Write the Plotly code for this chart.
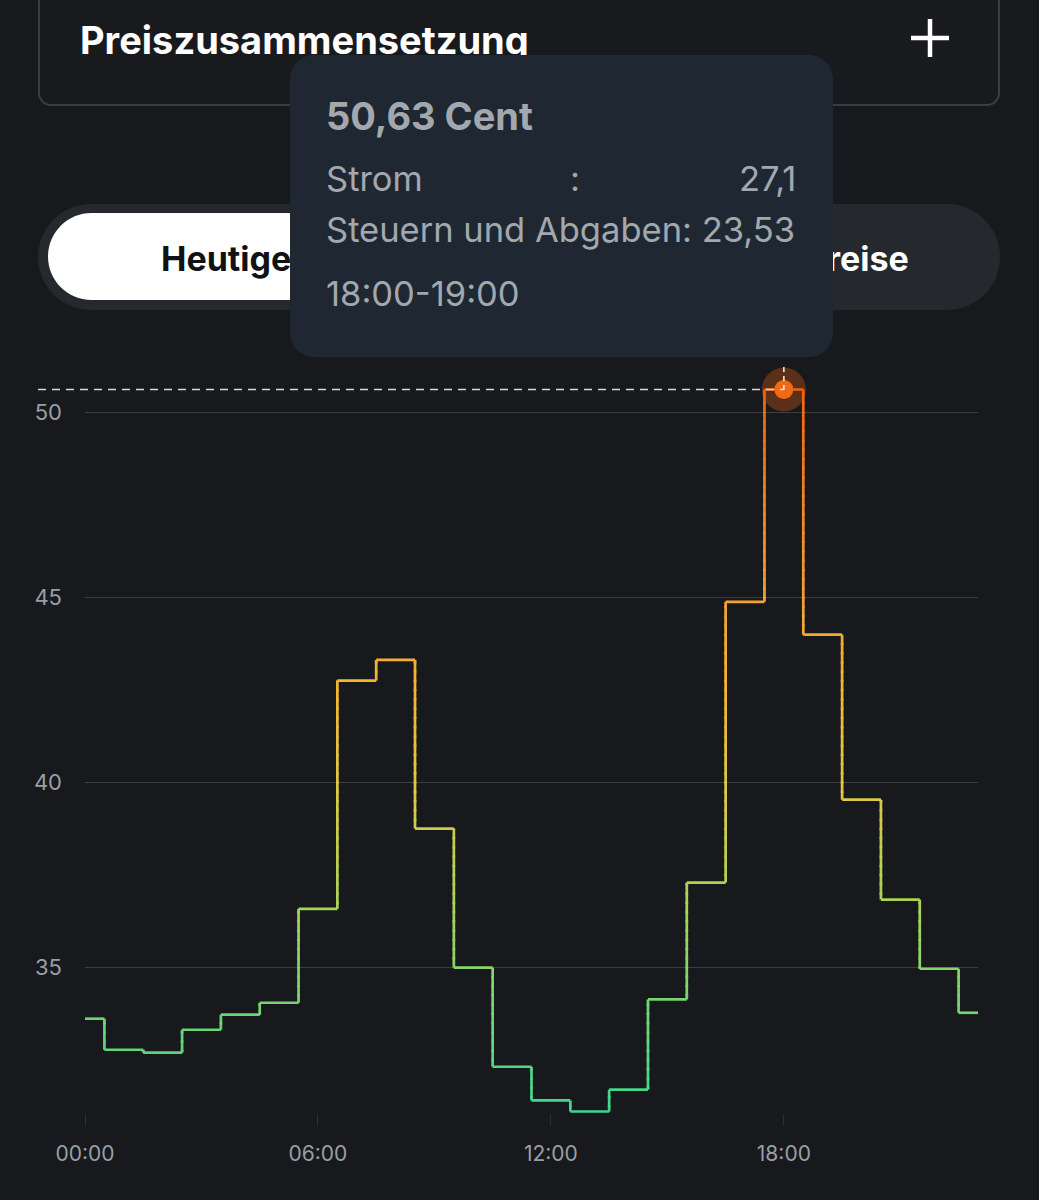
import math
import plotly.graph_objects as go

# ---------------- data ----------------
hours = list(range(24))
prices = [33.62, 32.78, 32.70, 33.32, 33.73, 34.05, 36.59, 42.76, 43.32, 38.76,
          35.00, 32.32, 31.41, 31.11, 31.70, 34.14, 37.30, 44.89, 50.63, 44.00,
          39.54, 36.84, 34.97, 33.78]
x_tickvals = [0, 6, 12, 18]
x_ticktext = ["00:00", "06:00", "12:00", "18:00"]
y_tickvals = [35, 40, 45, 50]
selected_hour = 18
breakdown_labels = ["Strom", "Steuern und Abgaben"]
breakdown_values = [27.1, 23.53]
title_text = "Preiszusammensetzung"
# visible (uncovered) parts of the two tab labels
tab_labels_visible = ["Heutige", "reise"]
unit = "Cent"

# ---------------- style ----------------
BG = "#17191c"
FONT = "Inter"
W_FIG, H_FIG = 1039, 1200
L, R, T, B = 85, 978, 388, 1113
PW, PH = R - L, B - T

def px(x):
    return (x - L) / PW

def py(y):
    return (B - y) / PH

def fmt(v):
    return ("%g" % v).replace(".", ",")

stops = [(0.0, (62, 214, 143)), (0.28, (166, 212, 90)), (0.45, (222, 200, 68)),
         (0.6, (245, 180, 50)), (0.72, (243, 160, 52)), (1.0, (240, 100, 15))]
vmin, vmax = min(prices), max(prices)

def color_at(v):
    t = (v - vmin) / (vmax - vmin)
    t = max(0.0, min(1.0, t))
    for (t0, c0), (t1, c1) in zip(stops[:-1], stops[1:]):
        if t <= t1:
            f = (t - t0) / (t1 - t0) if t1 > t0 else 0
            c = [round(a + (b - a) * f) for a, b in zip(c0, c1)]
            return "rgb(%d,%d,%d)" % tuple(c)
    return "rgb(%d,%d,%d)" % stops[-1][1]

# ---------------- step line split into colour bins ----------------
BIN = 0.25
OVL = 0.03
groups = {}

def add(k, xs, ys):
    g = groups.setdefault(k, ([], []))
    g[0].extend(xs + [None])
    g[1].extend(ys + [None])

n = len(hours)
for i in range(n):
    x0 = hours[i] - 0.5 if i > 0 else hours[i]
    x1 = hours[i] + 0.5 if i < n - 1 else hours[i]
    add(math.floor(prices[i] / BIN), [x0, x1], [prices[i], prices[i]])
    if i < n - 1:
        xm = hours[i] + 0.5
        lo, hi = sorted((prices[i], prices[i + 1]))
        for k in range(math.floor(lo / BIN), math.floor(hi / BIN) + 1):
            a, b = max(lo, k * BIN), min(hi, (k + 1) * BIN)
            if b > a:
                add(k, [xm, xm], [max(lo, a - OVL), min(hi, b + OVL)])

fig = go.Figure()
for k in sorted(groups):
    xs, ys = groups[k]
    fig.add_trace(go.Scatter(x=xs, y=ys, mode="lines",
                             line=dict(color=color_at((k + 0.5) * BIN), width=2.7),
                             hoverinfo="skip", showlegend=False))

sel_val = prices[hours.index(selected_hour)]
fig.add_trace(go.Scatter(x=[selected_hour], y=[sel_val], mode="markers",
                         marker=dict(size=44, color="rgba(240,100,15,0.32)"),
                         cliponaxis=False, hoverinfo="skip", showlegend=False))
fig.add_trace(go.Scatter(x=[selected_hour], y=[sel_val], mode="markers",
                         marker=dict(size=19, color="#f06a12"),
                         cliponaxis=False, hoverinfo="skip", showlegend=False))

# ---------------- helpers for UI shapes ----------------
def rrect(x0, y0, x1, y1, r):
    k = 0.5523 * r
    P = lambda x, y: "%.5f,%.5f" % (px(x), py(y))
    return ("M" + P(x0 + r, y0) + " L" + P(x1 - r, y0) +
            " C" + P(x1 - r + k, y0) + " " + P(x1, y0 + r - k) + " " + P(x1, y0 + r) +
            " L" + P(x1, y1 - r) +
            " C" + P(x1, y1 - r + k) + " " + P(x1 - r + k, y1) + " " + P(x1 - r, y1) +
            " L" + P(x0 + r, y1) +
            " C" + P(x0 + r - k, y1) + " " + P(x0, y1 - r + k) + " " + P(x0, y1 - r) +
            " L" + P(x0, y0 + r) +
            " C" + P(x0, y0 + r - k) + " " + P(x0 + r - k, y0) + " " + P(x0 + r, y0) + " Z")

sel_paper_x = (selected_hour - hours[0]) / (hours[-1] - hours[0])
sel_paper_y = (sel_val - (vmin - 0.04)) / ((vmax + 0.04) - (vmin - 0.04))

shapes = []
# top card
shapes.append(dict(type="path", path=rrect(39, -40, 999, 105, 12), xref="paper", yref="paper",
                   line=dict(color="#3a3d42", width=2), fillcolor="#181a1d", layer="below"))
# plus icon
shapes.append(dict(type="line", xref="paper", yref="paper", x0=px(911), x1=px(949),
                   y0=py(38), y1=py(38), line=dict(color="white", width=4.5)))
shapes.append(dict(type="line", xref="paper", yref="paper", x0=px(930), x1=px(930),
                   y0=py(19), y1=py(57), line=dict(color="white", width=4.5)))
# toggle pills
shapes.append(dict(type="path", path=rrect(38, 204, 1000, 310, 53), xref="paper", yref="paper",
                   line=dict(width=0), fillcolor="#25282c", layer="below"))
shapes.append(dict(type="path", path=rrect(48, 213, 519, 300, 43.5), xref="paper", yref="paper",
                   line=dict(width=0), fillcolor="#ffffff", layer="below"))
# tooltip
TT = (290, 55, 833, 357, 24)
TT_BG = "#1f2832"
shapes.append(dict(type="path", path=rrect(*TT), xref="paper", yref="paper",
                   line=dict(width=0), fillcolor=TT_BG, layer="below"))
# dashed guides
shapes.append(dict(type="line", xref="paper", yref="paper", x0=px(38), x1=sel_paper_x,
                   y0=sel_paper_y, y1=sel_paper_y,
                   line=dict(color="#d8dadd", width=1.6, dash="8px,6px")))
shapes.append(dict(type="line", xref="paper", yref="paper", x0=sel_paper_x, x1=sel_paper_x,
                   y0=py(367), y1=py(394), line=dict(color="#e8e8e8", width=1.6, dash="5px,4px")))

# ---------------- annotations ----------------
ann = []
def text(x, y, s, size, color, bold=False, xanchor="left", family=FONT):
    ann.append(dict(x=px(x), y=py(y), xref="paper", yref="paper", text=("<b>%s</b>" % s) if bold else s,
                    showarrow=False, xanchor=xanchor, yanchor="middle",
                    font=dict(family=family, size=size, color=color)))

text(78, 40, title_text, 38, "#ffffff", bold=True)
text(159, 258, tab_labels_visible[0], 34, "#111214", bold=True, xanchor="left")
text(911, 258, tab_labels_visible[1], 34, "#ffffff", bold=True, xanchor="right")

# tooltip covers (drawn over the title descenders)
x0, y0, x1, y1, r = TT
for cx0, cy0, cx1, cy1 in [(x0 + r, y0, x1 - r, y1), (x0, y0 + r, x1, y1 - r)]:
    ann.append(dict(x=px(cx0), y=py(cy0), xref="paper", yref="paper", text=" ",
                    showarrow=False, xanchor="left", yanchor="top",
                    width=cx1 - cx0, height=cy1 - cy0, bgcolor=TT_BG,
                    borderpad=0, borderwidth=0, font=dict(size=4)))

TT_FG = "#a3a8af"
total = sum(breakdown_values)
text(324, 116, "%s %s" % (fmt(round(total, 2)), unit), 38, TT_FG, bold=True)
text(324, 179, breakdown_labels[0], 34.5, TT_FG)
text(575, 179, ":", 34.5, TT_FG, xanchor="center")
text(798, 179, fmt(breakdown_values[0]), 34.5, TT_FG, xanchor="right")
text(324, 229, "%s: %s" % (breakdown_labels[1], fmt(breakdown_values[1])), 34.5, TT_FG)
text(324, 293, "%02d:00-%02d:00" % (selected_hour, selected_hour + 1), 34.5, TT_FG)

fig.update_layout(
    width=W_FIG, height=H_FIG,
    margin=dict(l=L, r=W_FIG - R, t=T, b=H_FIG - B, pad=0),
    paper_bgcolor=BG, plot_bgcolor=BG,
    showlegend=False, hovermode=False,
    shapes=shapes, annotations=ann,
    xaxis=dict(range=[hours[0], hours[-1]], tickvals=x_tickvals, ticktext=x_ticktext,
               showgrid=False, zeroline=False, showline=False,
               ticks="outside", ticklen=12, tickwidth=1, tickcolor="#2a2d31",
               ticklabelstandoff=10,
               tickfont=dict(family=FONT, size=21, color="#9a9ea5"), fixedrange=True),
    yaxis=dict(range=[vmin - 0.04, vmax + 0.04], tickvals=y_tickvals,
               showgrid=True, gridcolor="#3a3d42", gridwidth=1, zeroline=False, showline=False,
               ticks="", ticklabelstandoff=22,
               tickfont=dict(family=FONT, size=22, color="#9a9ea5"), fixedrange=True),
)

fig.write_html("out.html", config=dict(displayModeBar=False),
               post_script="document.body.style.margin='0';document.body.style.background='#17191c';")
